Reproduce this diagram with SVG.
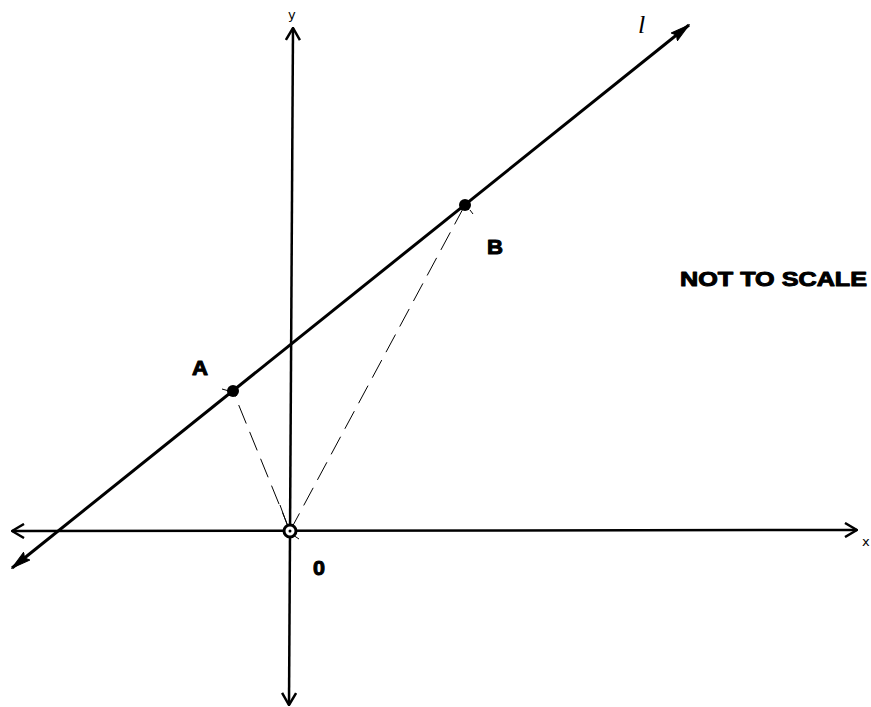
<svg xmlns="http://www.w3.org/2000/svg" width="871" height="707" viewBox="0 0 871 707">
<style>
.axis{stroke:#000;stroke-width:2.5;fill:none}
.line{stroke:#000;stroke-width:3;fill:none}
.dash{stroke:#000;stroke-width:1;fill:none;stroke-dasharray:20 9}
.tick{stroke:#000;stroke-width:1;fill:none}
.lbl{font-family:"Liberation Sans",Arial,sans-serif;font-weight:bold;fill:#000;stroke:#000;stroke-width:1;stroke-linejoin:round}
.small{font-family:"DejaVu Sans","Liberation Sans",sans-serif;font-size:13px;fill:#000}
</style>
<defs>
<marker id="open" viewBox="0 0 14 16" refX="13" refY="8" markerWidth="14" markerHeight="16" markerUnits="userSpaceOnUse" orient="auto-start-reverse">
<path d="M1,1 L13,8 L1,15" fill="none" stroke="#000" stroke-width="2.5"/>
</marker>
<marker id="solid" viewBox="0 0 20 12" refX="19" refY="6" markerWidth="20" markerHeight="12" markerUnits="userSpaceOnUse" orient="auto-start-reverse">
<path d="M0,1 L19,6 L0,11 L3,6 Z" fill="#000" stroke="#000" stroke-width="1"/>
</marker>
</defs>
<rect width="871" height="707" fill="#fff"/>
<g id="connectors">
<line id="x-axis" class="axis" x1="12" y1="531" x2="857" y2="530" marker-start="url(#open)" marker-end="url(#open)"/>
<line id="y-axis" class="axis" x1="289" y1="705" x2="293" y2="28" marker-start="url(#open)" marker-end="url(#open)"/>
<line id="line-l" class="line" x1="12" y1="568" x2="689" y2="25" marker-start="url(#solid)" marker-end="url(#solid)"/>
<line id="OA" class="dash" x1="290" y1="531" x2="233" y2="391"/>
<line id="OB" class="dash" x1="290" y1="531" x2="465" y2="205"/>
</g>
<g id="node-A">
<circle cx="233" cy="391" r="6" fill="#000"/>
<line class="tick" x1="222" y1="389" x2="229" y2="391"/>
<text class="lbl" x="192" y="375" font-size="20" textLength="16" lengthAdjust="spacingAndGlyphs">A</text>
</g>
<g id="node-B">
<circle cx="465" cy="205" r="6" fill="#000"/>
<line class="tick" x1="470" y1="210" x2="473" y2="214"/>
<text class="lbl" x="487" y="254" font-size="21" textLength="16" lengthAdjust="spacingAndGlyphs">B</text>
</g>
<g id="node-O">
<line class="tick" x1="280" y1="505" x2="288" y2="527"/>
<line class="tick" x1="293" y1="535" x2="299" y2="539"/>
<circle cx="290" cy="531" r="6" fill="#fff" stroke="#000" stroke-width="3"/>
<circle cx="290" cy="531" r="1.5" fill="#000"/>
<text class="lbl" x="313" y="575" font-size="21" textLength="12" lengthAdjust="spacingAndGlyphs">0</text>
</g>
<g id="labels">
<text class="small" x="288" y="19">y</text>
<text class="small" x="862" y="546">x</text>
<text x="638" y="33" font-family="'Liberation Serif',serif" font-style="italic" font-size="26" fill="#000">l</text>
<text class="lbl" x="680" y="286" font-size="21" textLength="187" lengthAdjust="spacingAndGlyphs">NOT TO SCALE</text>
</g>
</svg>
